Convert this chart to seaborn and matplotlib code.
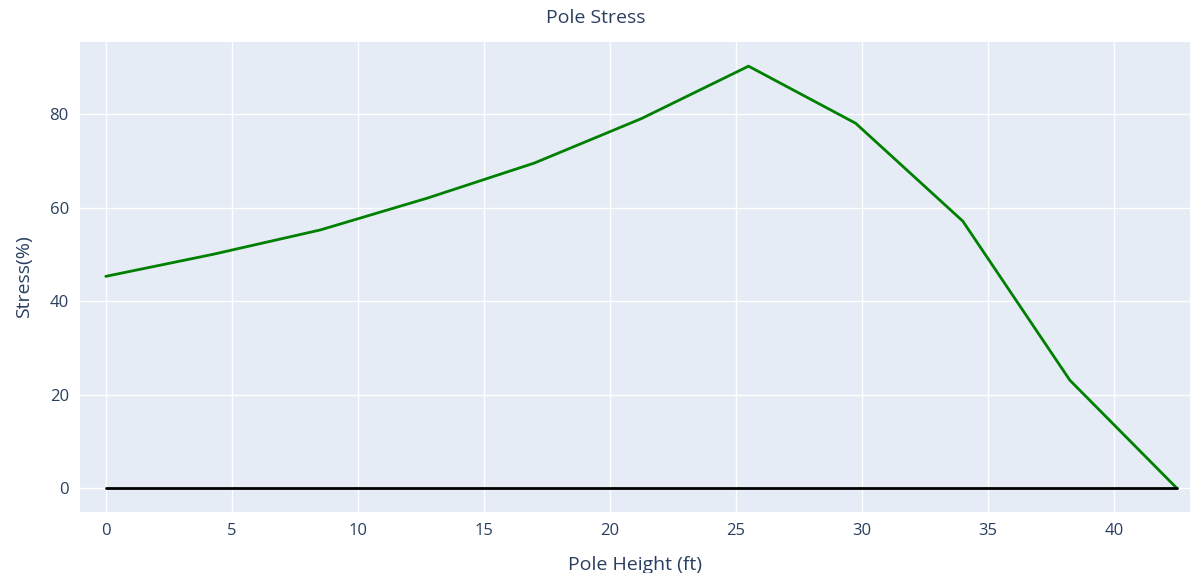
import numpy as np
import matplotlib
matplotlib.use("Agg")
import matplotlib.pyplot as plt
import seaborn as sns
import pandas as pd

height_ft = [0, 4.25, 8.5, 12.75, 17, 21.25, 25.5, 29.75, 34, 38.25, 42.5]
stress_pct = [45.3, 50.0, 55.2, 62.0, 69.5, 79.0, 90.2, 78.0, 57.1, 23.1, 0.0]
base_x = [0, 42.5]
base_y = [0, 0]

sns.set_theme(style="darkgrid", rc={
    "axes.facecolor": "#E5ECF6",
    "grid.color": "white",
    "grid.linewidth": 1.0,
})
plt.rcParams['font.family'] = ['Open Sans', 'DejaVu Sans']
txt = "#2a3f5f"

fig = plt.figure(figsize=(11.92, 5.73), dpi=100)
ax = fig.add_axes([0.067, 0.106, 0.931, 0.821])

df = pd.DataFrame({"h": height_ft, "s": stress_pct})
sns.lineplot(data=df, x="h", y="s", ax=ax, color="green", linewidth=2)
ax.plot(base_x, base_y, color="black", linewidth=2)

ax.set_xlim(-1.03, 43.0)
ax.set_ylim(-5.1, 95.4)
ax.set_xticks(np.arange(0, 45, 5))
ax.set_yticks(np.arange(0, 100, 20))
ax.tick_params(colors=txt, labelsize=12, length=0, pad=8)
for s in ax.spines.values():
    s.set_visible(False)
ax.set_xlabel("Pole Height (ft)", color=txt, fontsize=14, labelpad=12)
ax.set_ylabel("Stress(%)", color=txt, fontsize=14, labelpad=12)
fig.suptitle("Pole Stress", color=txt, fontsize=14, y=0.985)

fig.savefig("out.png", dpi=100)
